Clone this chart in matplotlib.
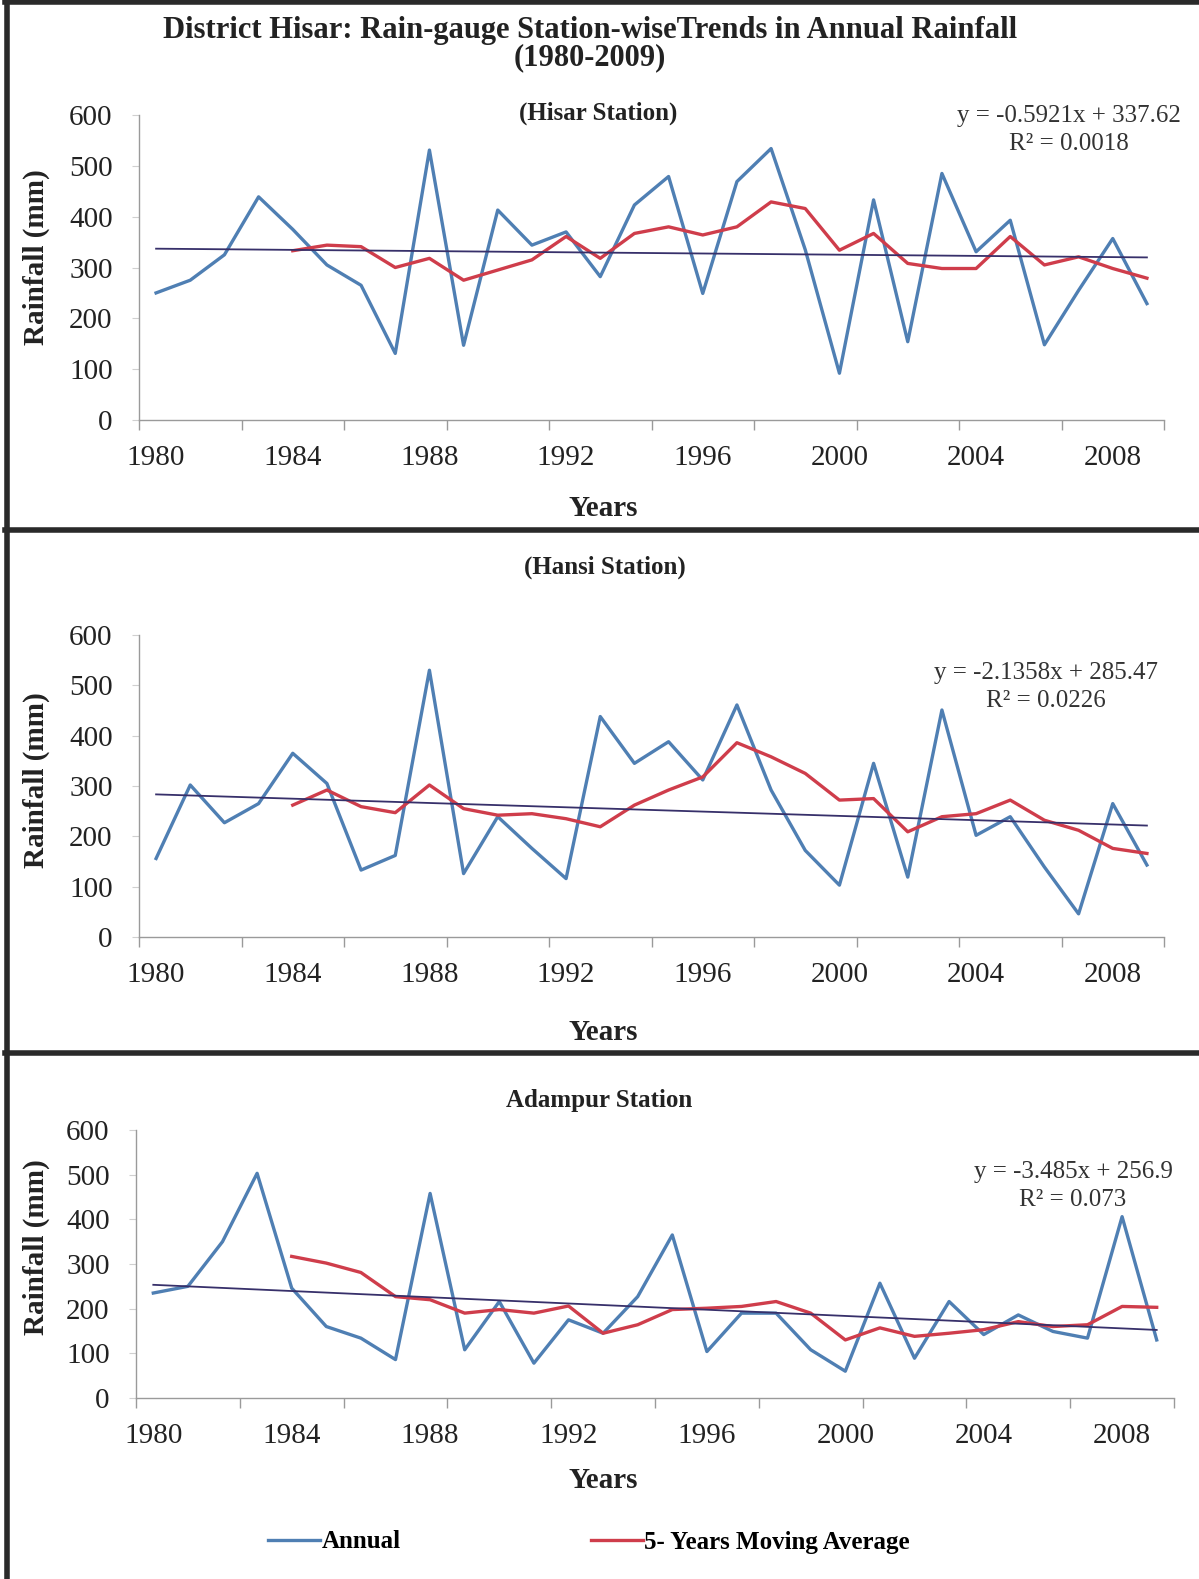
import numpy as np
import matplotlib
matplotlib.use("Agg")
import matplotlib.pyplot as plt
from matplotlib.ticker import FixedLocator
from matplotlib.lines import Line2D

plt.rcParams['font.family'] = ['Liberation Serif', 'DejaVu Serif']

# ---------------- data ----------------
years = list(range(1980, 2010))
tick_years = [1980, 1984, 1988, 1992, 1996, 2000, 2004, 2008]

hisar_annual = [250, 275, 325, 439, 375, 305, 265, 131, 531, 147, 413, 344, 370, 282, 423,
                479, 249, 469, 534, 335, 92, 433, 154, 485, 331, 393, 148, 255, 357, 229]
hisar_ma = [333, 344, 341, 300, 318, 275, 295, 315, 361, 318, 367, 380, 364,
            380, 429, 416, 334, 367, 308, 298, 298, 361, 305, 321, 298, 279]

hansi_annual = [156, 302, 227, 265, 365, 305, 133, 162, 530, 126, 239, 176, 116, 438, 345,
                388, 312, 461, 292, 172, 103, 345, 119, 451, 202, 239, 139, 46, 265, 143]
hansi_ma = [262, 292, 259, 247, 302, 255, 242, 245, 235, 219, 262, 292, 318,
            386, 358, 325, 272, 275, 209, 239, 245, 272, 232, 212, 176, 166]

adampur_annual = [235, 250, 350, 503, 246, 160, 134, 86, 458, 108, 216, 78, 175, 145, 227,
                  365, 104, 190, 190, 108, 60, 257, 89, 216, 142, 186, 149, 134, 406, 130]
adampur_ma = [317, 302, 281, 227, 220, 190, 198, 190, 206, 145, 164, 198, 201,
              205, 216, 190, 130, 157, 138, 145, 153, 171, 160, 164, 205, 203]

trend_slopes = [-0.5921, -2.1358, -3.485]
trend_intercepts = [337.62, 285.47, 256.9]
equations = ["y = -0.5921x + 337.62\nR\u00b2 = 0.0018",
             "y = -2.1358x + 285.47\nR\u00b2 = 0.0226",
             "y = -3.485x + 256.9\nR\u00b2 = 0.073"]
station_titles = ["(Hisar Station)", "(Hansi Station)", "Adampur Station"]
ma_start = 4

# ---------------- layout (pixels) ----------------
W, H = 1199, 1579
BLUE = "#4f7fb3"
RED = "#cf3d4b"
TREND = "#37306a"
TXT = "#222222"
AXC = "#9a9a9a"

fig = plt.figure(figsize=(W / 100, H / 100), dpi=100)
fig.patch.set_facecolor("white")


def rect(l, r, t, b):
    return [l / W, 1 - b / H, (r - l) / W, (b - t) / H]


def fx(x):
    return x / W


def fy(y):
    return 1 - y / H


panels = [
    dict(rect=rect(139, 1164, 115, 420), annual=hisar_annual, ma=hisar_ma,
         title_xy=(598, 113), eq_xy=(1069, 130), ylab_y=0.534, years_y=508),
    dict(rect=rect(139, 1164, 635, 937), annual=hansi_annual, ma=hansi_ma,
         title_xy=(605, 567), eq_xy=(1046, 687), ylab_y=0.52, years_y=1032),
    dict(rect=rect(136, 1174, 1130, 1398), annual=adampur_annual, ma=adampur_ma,
         title_xy=(599, 1100), eq_xy=(1073, 1186), ylab_y=0.563, years_y=1480),
]

handles = None
for k, p in enumerate(panels):
    ax = fig.add_axes(p["rect"])
    idx = np.arange(len(years))
    la, = ax.plot(idx, p["annual"], color=BLUE, lw=2.4, zorder=2)
    lm, = ax.plot(idx[ma_start:], p["ma"], color=RED, lw=2.4, zorder=3)
    xt = np.array([idx[0], idx[-1]])
    ax.plot(xt, trend_slopes[k] * (xt + 1) + trend_intercepts[k], color=TREND, lw=1.3, zorder=4)
    handles = [la, lm]

    ax.set_xlim(-0.5, len(years) - 0.5)
    ax.set_ylim(0, 600)
    ax.set_yticks(range(0, 700, 100))
    ax.xaxis.set_major_locator(FixedLocator([years.index(y) for y in tick_years]))
    ax.set_xticklabels([str(y) for y in tick_years])
    ax.xaxis.set_minor_locator(FixedLocator(np.arange(-0.5, len(years), 3)))
    ax.tick_params(axis='x', which='major', length=0, pad=18, labelsize=21, labelcolor=TXT)
    ax.tick_params(axis='x', which='minor', length=7, direction='out', color=AXC, width=1)
    ax.tick_params(axis='y', which='major', length=5, direction='out', color="#d0d0d0",
                   pad=14, labelsize=21, labelcolor=TXT)
    for s in ["top", "right"]:
        ax.spines[s].set_visible(False)
    for s in ["left", "bottom"]:
        ax.spines[s].set_color(AXC)
        ax.spines[s].set_linewidth(1.0)
    ax.set_facecolor("none")

    ax.set_ylabel("Rainfall (mm)", fontsize=21, fontweight='bold', color=TXT)
    x0 = p["rect"][0] * W
    ax.yaxis.set_label_coords((36 - x0) / (p["rect"][2] * W), p["ylab_y"])
    ax.yaxis.label.set_va('center')

    ax.set_xlabel("Years", fontsize=21, fontweight='bold', color=TXT)
    bottom_px = (1 - p["rect"][1]) * H
    ax.xaxis.set_label_coords((603 - x0) / (p["rect"][2] * W),
                              -(p["years_y"] - bottom_px) / (p["rect"][3] * H))
    ax.xaxis.label.set_va('center')

    fig.text(fx(p["title_xy"][0]), fy(p["title_xy"][1]), station_titles[k],
             ha='center', va='center', fontsize=18, fontweight='bold', color=TXT)
    fig.text(fx(p["eq_xy"][0]), fy(p["eq_xy"][1]), equations[k], ha='center', va='center',
             fontsize=18, color="#333333", linespacing=1.3)

fig.text(fx(590), fy(44), "District Hisar: Rain-gauge Station-wiseTrends in Annual Rainfall\n(1980-2009)",
         ha='center', va='center', fontsize=22, fontweight='bold', color=TXT, linespacing=0.95)

fig.legend(handles, ["Annual", "5- Years Moving Average"], loc='center',
           bbox_to_anchor=(fx(589), fy(1542)), ncol=2, frameon=False,
           prop=dict(family='Liberation Serif', weight='bold', size=18),
           handlelength=2.1, handletextpad=0.05, columnspacing=7.6)

# frame lines
BORDER = "#2a2a2a"
fig.add_artist(Line2D([fx(7), fx(7)], [0, 1], color=BORDER, lw=4, transform=fig.transFigure))
for yy in [2, 530, 1053]:
    fig.add_artist(Line2D([fx(5), 1], [fy(yy), fy(yy)], color=BORDER, lw=4,
                          transform=fig.transFigure))

fig.savefig("out.png", dpi=100, facecolor="white")
